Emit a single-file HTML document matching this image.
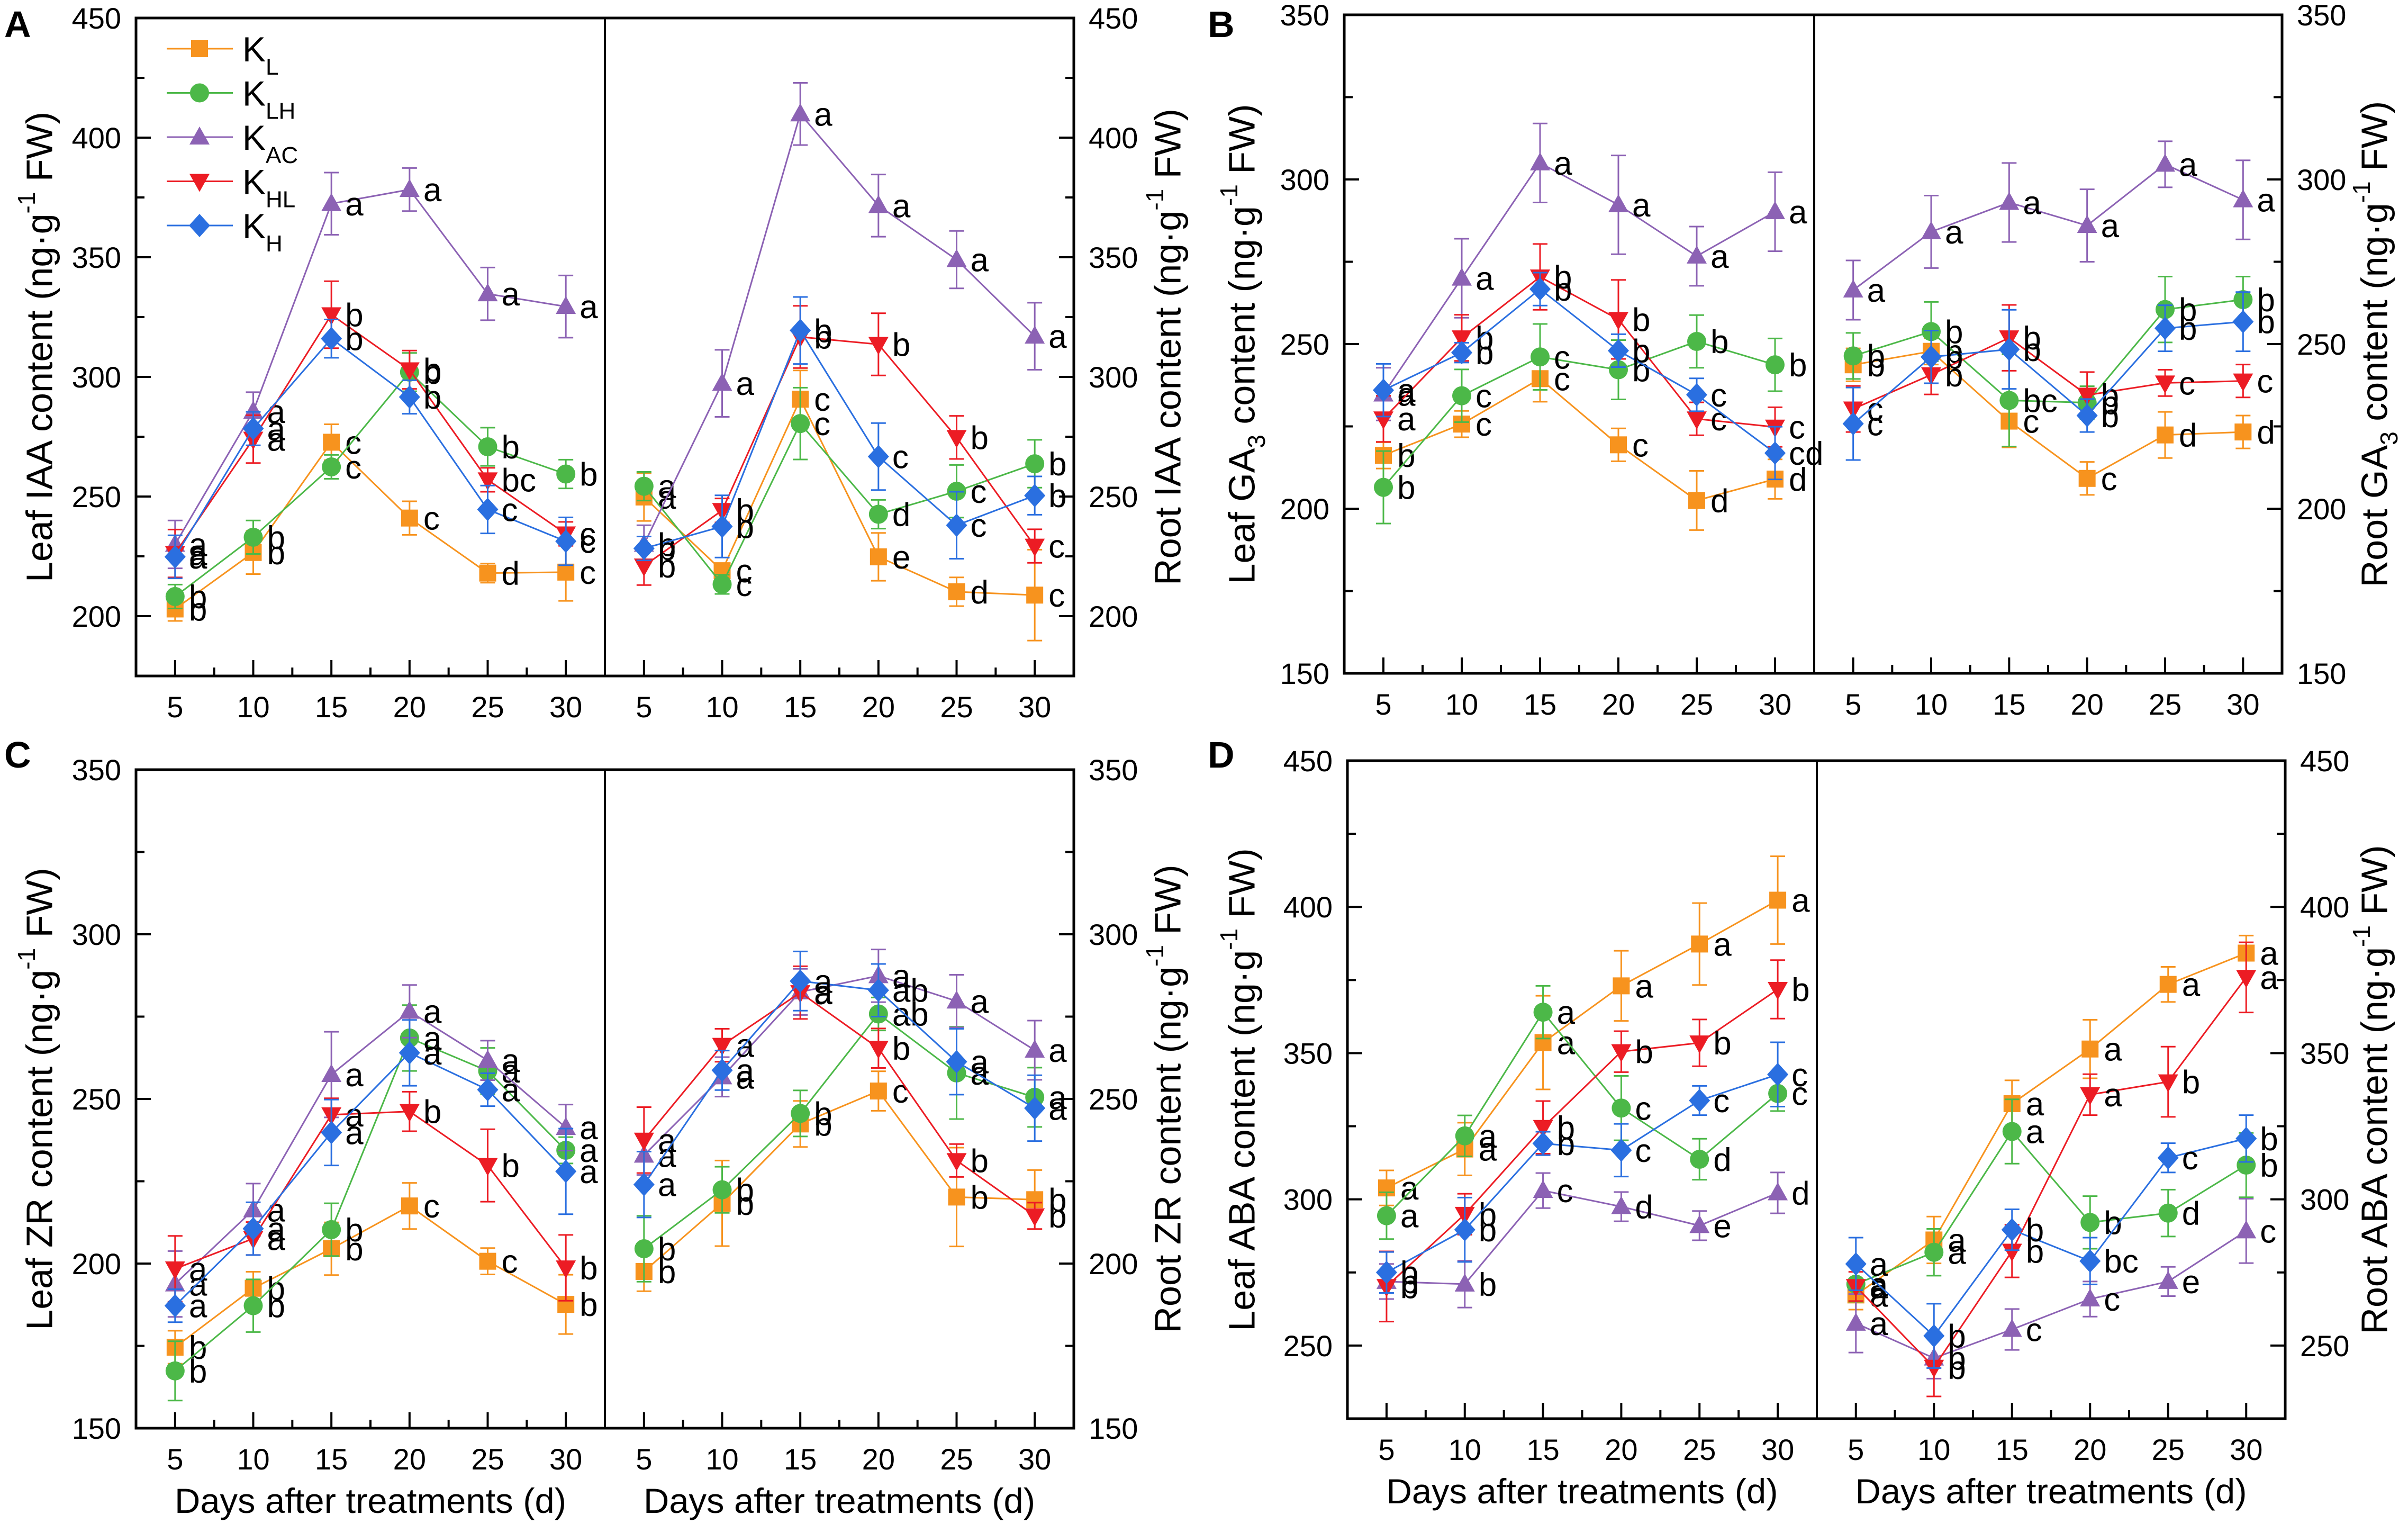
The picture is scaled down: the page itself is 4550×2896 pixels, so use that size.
<!DOCTYPE html>
<html><head><meta charset="utf-8"><style>
html,body{margin:0;padding:0;background:#fff}
svg{display:block;font-family:"Liberation Sans",Arial,sans-serif}
</style></head><body>
<svg id="fig" xmlns="http://www.w3.org/2000/svg" width="4550" height="2896" viewBox="0 0 4550 2896"></svg>
<script>
const days=[5,10,15,20,25,30];
const seriesLabels=['L','LH','AC','HL','H'];
const seriesColors=['#f7931e','#4cb848','#8c62b4','#ec1c24','#2a6fe0'];
const seriesShapes=['square','circle','triangle','invtriangle','diamond'];

// Panel A: IAA
const aLeafMean=[[203,226.6,272.7,241,218,218.4],[208.2,233,262.4,302,270.8,259.4],[230,285.6,372.4,378.3,334.7,329.4],[226.2,274,326,303,257,234.4],[224.8,278.4,316,291.6,244.6,231.3]];
const aLeafErr=[[5,9,7.5,7,4,12],[5,7,5,8,8,6],[10,8,13,9,11,13],[10,10,14,8,5,5],[9,7,8,7,10,10]];
const aLeafSig=[['b','b','c','c','d','c'],['b','b','c','b','b','b'],['a','a','a','a','a','a'],['a','a','b','b','bc','c'],['a','a','b','b','c','c']];
const aRootMean=[[249.8,219,290.7,224.8,210.2,208.8],[254.3,213.3,280.5,242.6,252.2,263.7],[230,297.3,409.9,371.6,349,317],[221,244.2,316.7,313.6,274.7,229.3],[228.3,237.5,319.4,266.7,238,250.4]];
const aRootErr=[[10,3,12,10,6,19],[6,4,15,6,11,10],[8,14,13,13,12,14],[8,5,13,13,9,7],[5,13,14,14,14,8]];
const aRootSig=[['a','c','c','e','d','c'],['a','c','c','d','c','b'],['b','a','a','a','a','a'],['b','b','b','b','b','c'],['b','b','b','c','c','b']];

// Panel B: GA3
const bLeafMean=[[216.2,225.7,239.5,219.4,202.5,209],[206.5,234.3,246.1,242.2,250.8,243.7],[234.8,270,305,292.3,276.7,290.2],[227.3,251.9,270.4,257.5,227.3,224.8],[236,247.4,266.7,248,234.6,216.9]];
const bLeafErr=[[4,4,7,5,9,6],[11,8,10,9,8,8],[8,12,12,15,9,12],[7,7,10,12,5,6],[8,3,5,5,5,8]];
const bLeafSig=[['b','c','c','c','d','d'],['b','c','c','b','b','b'],['a','a','a','a','a','a'],['a','b','b','b','c','c'],['a','b','b','b','c','cd']];
const bRootMean=[[243.7,247.8,226.6,209.2,222.4,223.3],[246.4,253.8,232.9,232.2,260.5,263.5],[266.4,284.1,293,286,304.6,293.8],[230.3,240.7,251.9,234.5,238.2,238.8],[225.8,246.1,248.4,228.3,254.8,256.8]];
const bRootErr=[[5,4,8,5,7,5],[7,9,14,5,10,7],[9,11,12,11,7,12],[7,6,10,7,4,5],[11,8,12,5,7,9]];
const bRootSig=[['b','b','c','c','d','d'],['b','b','bc','b','b','b'],['a','a','a','a','a','a'],['c','b','b','b','c','c'],['c','b','b','b','b','b']];

// Panel C: ZR
const cLeafMean=[[174.6,192.5,204.5,217.5,200.7,187.6],[167.4,187.2,210.3,268.5,258.5,234.4],[193.8,216.3,257.4,276.6,261.7,241.3],[198.4,207.6,245.2,246.2,229.8,198.7],[187.2,210.6,239.8,264,252.8,228]];
const cLeafErr=[[5,5,8,7,4,9],[9,8,8,10,7,4],[10,8,13,8,6,7],[10,5,5,6,11,10],[5,8,10,10,5,13]];
const cLeafSig=[['b','b','b','c','c','b'],['b','b','b','a','a','a'],['a','a','a','a','a','a'],['a','a','a','b','b','b'],['a','a','a','a','a','a']];
const cRootMean=[[197.6,218.3,242.4,252.4,220.2,219.4],[204.5,222.4,245.6,275.8,257.9,250.5],[232.9,256.7,282.5,287.4,279.7,264.8],[237.5,266.3,282.3,265.4,231.3,214.5],[224,258.7,285.8,283,261.3,247.2]];
const cRootErr=[[6,13,7,6,15,9],[10,7,7,5,14,9],[6,6,7,8,8,9],[10,5,8,6,5,4],[10,6,9,8,10,10]];
const cRootSig=[['b','b','b','c','b','b'],['b','b','b','ab','a','a'],['a','a','a','a','a','a'],['a','a','a','b','b','b'],['a','a','a','ab','a','a']];

// Panel D: ABA
const dLeafMean=[[303.9,317.2,353.6,373,387.3,402.3],[294.4,321.7,364,331.2,313.7,336.2],[271.9,271,303,297.5,291,302.2],[270.2,294.9,324.6,350.5,353.5,371.8],[275,289.6,319.1,316.8,333.8,342.7]];
const dLeafErr=[[6,9,16,12,14,15],[8,7,9,11,7,6],[6,8,6,5,5,7],[12,7,9,7,8,10],[7,11,4,9,5,11]];
const dLeafSig=[['a','a','a','a','a','a'],['a','a','a','c','d','c'],['b','b','c','d','e','d'],['b','b','b','b','b','b'],['b','b','b','c','c','c']];
const dRootMean=[[267.3,286.1,332.7,351.4,373.5,384.2],[271,281.9,323.2,292.1,295.3,311.7],[257.6,245.7,255.5,265.9,271.9,289.2],[270.2,242.6,282.3,335.8,340.2,375.9],[277.9,253.3,289.6,278.9,314.2,320.8]];
const dRootErr=[[5,8,8,10,6,6],[6,8,11,9,8,11],[10,7,7,6,5,11],[5,10,9,7,12,12],[9,11,7,8,5,8]];
const dRootSig=[['a','a','a','a','a','a'],['a','a','a','b','d','b'],['a','b','c','c','e','c'],['a','b','b','a','b','a'],['a','b','b','bc','c','b']];

const yTicksA=[200,250,300,350,400,450];
const yTicksB=[150,200,250,300,350];
const yTicksC=[150,200,250,300,350];
const yTicksD=[250,300,350,400,450];

const NS='http://www.w3.org/2000/svg';
const svg=document.getElementById('fig');
function mk(tag,attrs,parent){const e=document.createElementNS(NS,tag);for(const k in attrs)e.setAttribute(k,attrs[k]);(parent||svg).appendChild(e);return e;}

const panels=[
 {id:'a',letter:'A',lx:8,ly:70,left:257,mid:1143,right:2029,top:34,bottom:1277,ymin:175,ymax:450,ticks:yTicksA,hormone:'IAA',sub:'',leaf:[aLeafMean,aLeafErr,aLeafSig],root:[aRootMean,aRootErr,aRootSig],xtitle:false,legend:true,ltx:80,rtx:2212},
 {id:'b',letter:'B',lx:2282,ly:70,left:2540,mid:3428,right:4312,top:28,bottom:1272,ymin:150,ymax:350,ticks:yTicksB,hormone:'GA',sub:'3',leaf:[bLeafMean,bLeafErr,bLeafSig],root:[bRootMean,bRootErr,bRootSig],xtitle:false,legend:false,ltx:2352,rtx:4492},
 {id:'c',letter:'C',lx:8,ly:1450,left:257,mid:1143,right:2029,top:1454,bottom:2698,ymin:150,ymax:350,ticks:yTicksC,hormone:'ZR',sub:'',leaf:[cLeafMean,cLeafErr,cLeafSig],root:[cRootMean,cRootErr,cRootSig],xtitle:true,legend:false,ltx:80,rtx:2212},
 {id:'d',letter:'D',lx:2282,ly:1450,left:2546,mid:3433,right:4318,top:1437,bottom:2680,ymin:225,ymax:450,ticks:yTicksD,hormone:'ABA',sub:'',leaf:[dLeafMean,dLeafErr,dLeafSig],root:[dRootMean,dRootErr,dRootSig],xtitle:true,legend:false,ltx:2352,rtx:4492}
];

function marker(g,shape,x,y,color){
  let e;
  if(shape==='square'){e=mk('rect',{x:x-16,y:y-16,width:32,height:32,fill:color},g);}
  else if(shape==='circle'){e=mk('circle',{cx:x,cy:y,r:18,fill:color},g);}
  else if(shape==='triangle'){e=mk('polygon',{points:`${x},${y-20} ${x+19},${y+14} ${x-19},${y+14}`,fill:color},g);}
  else if(shape==='invtriangle'){e=mk('polygon',{points:`${x},${y+20} ${x+19},${y-14} ${x-19},${y-14}`,fill:color},g);}
  else {e=mk('polygon',{points:`${x},${y-22} ${x+20},${y} ${x},${y+22} ${x-20},${y}`,fill:color},g);}
  return e;
}

function drawHalf(p,half,x0,x1,data){
  const [means,errs,sigs]=data;
  const xs=v=>x0+(v-2.5)/30*(x1-x0);
  const ys=v=>p.bottom-(v-p.ymin)/(p.ymax-p.ymin)*(p.bottom-p.top);
  const g=mk('g',{});
  
  
  for(let s=0;s<means.length;s++){
    const col=seriesColors[s];
    const sg=mk('g',{},g);
    
    
    const pts=means[s].map((v,i)=>`${xs(days[i])},${ys(v)}`).join(' ');
    const ln=mk('polyline',{points:pts,fill:'none',stroke:col,'stroke-width':3},sg);
    
    
    means[s].forEach((v,i)=>{
      const x=xs(days[i]),yt=ys(v+errs[s][i]),yb=ys(v-errs[s][i]);
      const eb=mk('path',{d:`M${x},${yt}V${yb}M${x-14},${yt}H${x+14}M${x-14},${yb}H${x+14}`,stroke:col,'stroke-width':3,fill:'none'},sg);
      
      
      const m=marker(sg,seriesShapes[s],x,ys(v),col);
      
      
      const t=mk('text',{x:x+26,y:ys(v)+22,'font-size':62,fill:'#000'},sg);
      t.textContent=sigs[s][i];
      
      
    });
  }
  days.forEach(d=>{
    const x=xs(d);
    const tk=mk('line',{x1:x,x2:x,y1:p.bottom,y2:p.bottom-30,stroke:'#000','stroke-width':4});
    
    
    const mx=xs(d+2.5);
    if(d<30){const mt=mk('line',{x1:mx,x2:mx,y1:p.bottom,y2:p.bottom-16,stroke:'#000','stroke-width':4});
    
    }
    const lb=mk('text',{x:x,y:p.bottom+78,'font-size':56,'text-anchor':'middle',fill:'#000'});
    lb.textContent=d;
    
    
  });
  if(p.xtitle){
    const xt=mk('text',{x:(x0+x1)/2,y:p.bottom+160,'font-size':66,'text-anchor':'middle',fill:'#000',textLength:740,lengthAdjust:'spacingAndGlyphs'});
    xt.textContent='Days after treatments (d)';
    
    
  }
}

function yTitle(p,x,word){
  const cy=(p.top+p.bottom)/2;
  const t=mk('text',{x:x,y:cy,'font-size':70,'text-anchor':'middle',fill:'#000',transform:`rotate(-90 ${x} ${cy})`,'dominant-baseline':'middle'});
  let html=`${word} ${p.hormone}`;
  if(p.sub)html+=`<tspan baseline-shift="sub" font-size="46">${p.sub}</tspan>`;
  html+=` content (ng·g<tspan baseline-shift="super" font-size="46">-1</tspan> FW)`;
  t.innerHTML=html;
  return t;
}

panels.forEach(p=>{
  const L=mk('text',{x:p.lx,y:p.ly,'font-size':70,'font-weight':'bold',fill:'#000'});
  L.textContent=p.letter;
  
  

  drawHalf(p,'leaf',p.left,p.mid,p.leaf);
  drawHalf(p,'root',p.mid,p.right,p.root);

  const fr=mk('rect',{x:p.left,y:p.top,width:p.right-p.left,height:p.bottom-p.top,fill:'none',stroke:'#000','stroke-width':5});
  
  
  const dv=mk('line',{x1:p.mid,x2:p.mid,y1:p.top,y2:p.bottom,stroke:'#000','stroke-width':4});
  
  

  const ys=v=>p.bottom-(v-p.ymin)/(p.ymax-p.ymin)*(p.bottom-p.top);
  for(let v=p.ymin;v<=p.ymax;v+=25){
    const major=p.ticks.includes(v);
    const len=major?28:16;
    const y=ys(v);
    const t1=mk('line',{x1:p.left,x2:p.left+len,y1:y,y2:y,stroke:'#000','stroke-width':4});
    
    
    const t2=mk('line',{x1:p.right,x2:p.right-len,y1:y,y2:y,stroke:'#000','stroke-width':4});
    
    
  }
  p.ticks.forEach(v=>{
    const y=ys(v);
    const a=mk('text',{x:p.left-28,y:y+20,'font-size':56,'text-anchor':'end',fill:'#000'});
    a.textContent=v;
    
    
    const b=mk('text',{x:p.right+28,y:y+20,'font-size':56,'text-anchor':'start',fill:'#000'});
    b.textContent=v;
    
    
  });
  const lt=yTitle(p,p.ltx,'Leaf');
  
  
  const rt=yTitle(p,p.rtx,'Root');
  
  

  if(p.legend){
    const lg=mk('g',{});
    
    
    seriesLabels.forEach((s,i)=>{
      const y=92+i*83.5;
      const eg=mk('g',{},lg);
      
      
      mk('line',{x1:315,x2:440,y1:y,y2:y,stroke:seriesColors[i],'stroke-width':3},eg);
      marker(eg,seriesShapes[i],377,y,seriesColors[i]);
      const t=mk('text',{x:458,y:y+24,'font-size':66,fill:'#000'},eg);
      t.innerHTML=`K<tspan baseline-shift="sub" font-size="44">${s}</tspan>`;
    });
  }
});
</script>
</body></html>
